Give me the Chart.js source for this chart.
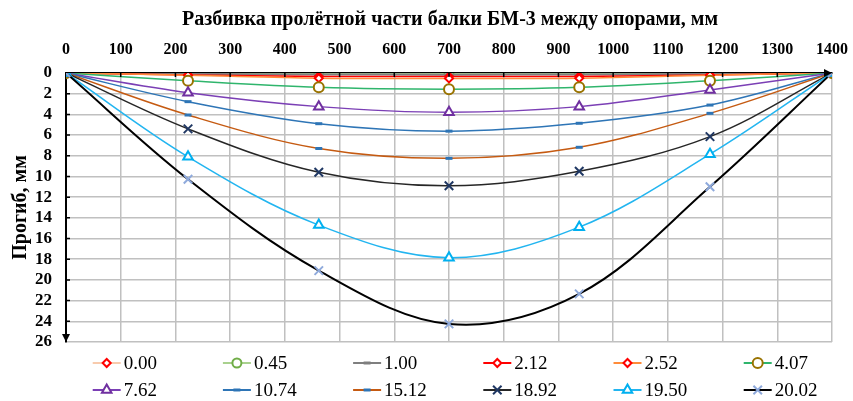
<!DOCTYPE html>
<html lang="ru">
<head>
  <meta charset="UTF-8">
  <title>Прогиб балки БМ-3</title>
  <script src="https://cdnjs.cloudflare.com/ajax/libs/Chart.js/4.4.0/chart.umd.min.js"></script>
  <style>
    html, body { margin: 0; padding: 0; background: #fff; }
    #wrap { width: 853px; height: 401px; }
  </style>
</head>
<body>
  <div id="wrap"><canvas id="beamChart"></canvas></div>

  <script>
    // points along the span, mm
    const spanX = [0, 223, 462, 700, 938, 1177, 1400];

    // load steps (legend labels)
    const loadLabels = ['0.00', '0.45', '1.00', '2.12', '2.52', '4.07',
                        '7.62', '10.74', '15.12', '18.92', '19.50', '20.02'];

    // deflection, mm, for each load step
    const defl000 = [0, 0, 0, 0, 0, 0, 0];
    const defl045 = [0, 0.02, 0.03, 0.03, 0.03, 0.02, 0];
    const defl100 = [0, 0.08, 0.14, 0.16, 0.14, 0.08, 0];
    const defl212 = [0, 0.2, 0.33, 0.35, 0.33, 0.2, 0];
    const defl252 = [0, 0.22, 0.5, 0.52, 0.5, 0.22, 0];
    const defl407 = [0, 0.74, 1.38, 1.56, 1.38, 0.74, 0];
    const defl762 = [0, 1.9, 3.25, 3.8, 3.25, 1.64, 0];
    const defl1074 = [0, 2.77, 4.9, 5.62, 4.86, 3.1, 0];
    const defl1512 = [0, 4.06, 7.3, 8.25, 7.18, 3.9, 0];
    const defl1892 = [0, 5.4, 9.6, 10.9, 9.5, 6.15, 0];
    const defl1950 = [0, 8.1, 14.7, 17.85, 14.9, 7.85, 0];
    const defl2002 = [0, 10.27, 19.1, 24.25, 21.35, 11.0, 0];

    const yTicksMax = 26;

    const allDefl = [defl000, defl045, defl100, defl212, defl252, defl407,
                     defl762, defl1074, defl1512, defl1892, defl1950, defl2002];

    // line colour, marker colour, marker style, marker radius, line width
    const styles = [
      { line: '#F8CBAD', mark: '#FF0000', pt: 'rectRot', r: 4, w: 1.5 },
      { line: '#A9D18E', mark: '#70AD47', pt: 'circle', r: 4.5, w: 1.5 },
      { line: '#7F7F7F', mark: '#7F7F7F', pt: 'line', r: 3.5, w: 2 },
      { line: '#FF0000', mark: '#FF0000', pt: 'rectRot', r: 4, w: 1.5 },
      { line: '#FF8C3A', mark: '#FF0000', pt: 'rectRot', r: 4, w: 1.5 },
      { line: '#2FB56C', mark: '#997300', pt: 'circle', r: 5, w: 1.5 },
      { line: '#7B3FB5', mark: '#7030A0', pt: 'triangle', r: 5.5, w: 1.5 },
      { line: '#2E75B6', mark: '#2E75B6', pt: 'line', r: 3.5, w: 1.5 },
      { line: '#C55A11', mark: '#2E75B6', pt: 'line', r: 3.5, w: 1.5 },
      { line: '#262626', mark: '#203864', pt: 'crossRot', r: 6, w: 1.5 },
      { line: '#22B5F0', mark: '#00B0F0', pt: 'triangle', r: 5.5, w: 1.5 },
      { line: '#000000', mark: '#8FAADC', pt: 'crossRot', r: 6, w: 2 }
    ];

    const datasets = allDefl.map((vals, i) => ({
      label: loadLabels[i],
      data: spanX.map((x, k) => ({ x: x, y: vals[k] })),
      borderColor: styles[i].line,
      borderWidth: styles[i].w,
      tension: 0.35,
      pointStyle: styles[i].pt,
      pointRadius: styles[i].r,
      pointBorderColor: styles[i].mark,
      pointBackgroundColor: '#ffffff',
      pointBorderWidth: styles[i].pt === 'line' ? 3 : 2,
      order: allDefl.length - i
    }));

    const serif = '"Liberation Serif", "Times New Roman", serif';

    // title, inner tick marks, axis arrows, legend
    const decor = {
      id: 'decor',
      afterDraw(chart) {
        const ctx = chart.ctx;
        const xs = chart.scales.x, ys = chart.scales.y;
        const area = chart.chartArea;
        ctx.save();

        ctx.fillStyle = '#000';
        ctx.font = 'bold 20px ' + serif;
        ctx.textAlign = 'center';
        ctx.textBaseline = 'middle';
        ctx.fillText('Разбивка пролётной части балки БМ-3 между опорами, мм', 450, 20);

        ctx.strokeStyle = '#000';
        ctx.lineWidth = 1.5;
        ctx.beginPath();
        for (let v = 100; v < 1400; v += 100) {
          const px = xs.getPixelForValue(v);
          ctx.moveTo(px, area.top);
          ctx.lineTo(px, area.top + 4);
        }
        for (let v = 2; v < yTicksMax; v += 2) {
          const py = ys.getPixelForValue(v);
          ctx.moveTo(area.left, py);
          ctx.lineTo(area.left + 4, py);
        }
        ctx.stroke();

        ctx.beginPath();
        ctx.moveTo(area.left - 4, area.bottom - 8);
        ctx.lineTo(area.left + 4, area.bottom - 8);
        ctx.lineTo(area.left, area.bottom);
        ctx.closePath();
        ctx.moveTo(area.right - 8, area.top - 4);
        ctx.lineTo(area.right - 8, area.top + 4);
        ctx.lineTo(area.right, area.top);
        ctx.closePath();
        ctx.fill();

        ctx.font = '19px ' + serif;
        ctx.textAlign = 'left';
        loadLabels.forEach((lab, i) => {
          const cx = 106.7 + (i % 6) * 130.2;
          const cy = i < 6 ? 363 : 390;
          const st = styles[i];
          ctx.strokeStyle = st.line;
          ctx.lineWidth = 2;
          ctx.beginPath();
          ctx.moveTo(cx - 14, cy);
          ctx.lineTo(cx + 14, cy);
          ctx.stroke();
          ctx.strokeStyle = st.mark;
          ctx.fillStyle = '#fff';
          ctx.lineWidth = st.pt === 'line' ? 3 : 2;
          Chart.helpers.drawPoint(ctx, { pointStyle: st.pt, radius: st.r, rotation: 0, borderWidth: ctx.lineWidth }, cx, cy);
          ctx.fillStyle = '#000';
          ctx.fillText(lab, cx + 17, cy + 1);
        });
        ctx.restore();
      }
    };

    new Chart(document.getElementById('beamChart'), {
      type: 'line',
      data: { datasets: datasets },
      options: {
        responsive: true,
        maintainAspectRatio: false,
        animation: false,
        layout: { padding: { left: 0, right: 21, top: 0, bottom: 59 } },
        plugins: { legend: { display: false }, title: { display: false }, tooltip: { enabled: false } },
        scales: {
          x: {
            type: 'linear',
            position: 'top',
            min: 0, max: 1400,
            ticks: {
              stepSize: 100, autoSkip: false, color: '#000', padding: 14,
              font: { family: serif, size: 16, weight: 'bold' },
              callback: v => String(v)
            },
            grid: { color: '#C0C0C0', lineWidth: 1.5, drawTicks: false },
            border: { color: '#000', width: 2 },
            afterFit(s) { s.height = 73; s.paddingLeft = 0; s.paddingRight = 0; }
          },
          y: {
            reverse: true,
            min: 0, max: yTicksMax,
            ticks: {
              stepSize: 2, autoSkip: false, color: '#000', padding: 14,
              font: { family: serif, size: 17, weight: 'bold' },
              callback: v => String(v)
            },
            grid: { color: '#C0C0C0', lineWidth: 1.5, drawTicks: false },
            border: { color: '#000', width: 2 },
            title: { display: true, text: 'Прогиб, мм', color: '#000', padding: { top: 9, bottom: 0 }, font: { family: serif, size: 20, weight: 'bold' } },
            afterFit(s) { s.width = 66; s.paddingTop = 0; s.paddingBottom = 0; }
          }
        }
      },
      plugins: [decor]
    });
  </script>
</body>
</html>
